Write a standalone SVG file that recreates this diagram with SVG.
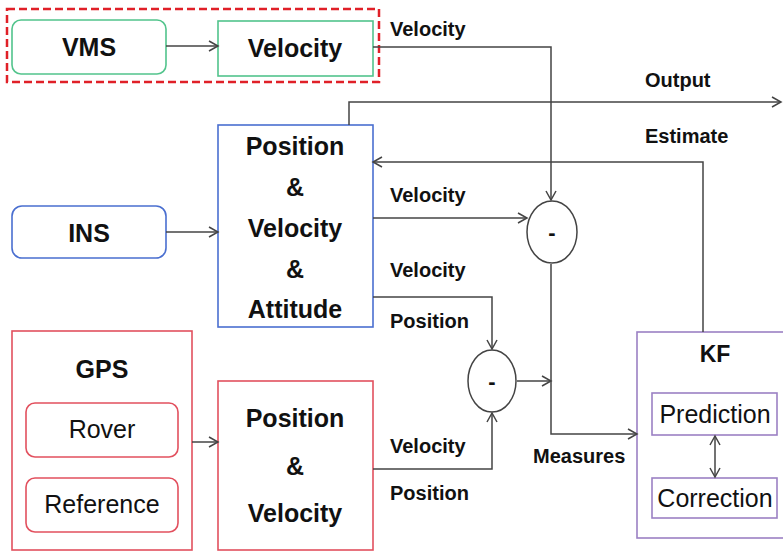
<svg xmlns="http://www.w3.org/2000/svg" width="783" height="552" viewBox="0 0 783 552">
<defs>
<marker id="arr" markerUnits="userSpaceOnUse" markerWidth="12" markerHeight="12" refX="10" refY="6" orient="auto-start-reverse">
<path d="M1,1 L10,6 L1,11" fill="none" stroke="#444" stroke-width="1.5"/>
</marker>
</defs>
<style>
text{font-family:"Liberation Sans",Arial,sans-serif;fill:#111;text-anchor:middle}
.b{font-weight:bold}
.box{font-size:25px;font-weight:bold}
.reg{font-size:25px}
.lbl{font-size:20px;font-weight:bold;text-anchor:start}
.green{fill:#fff;stroke:#52c48c;stroke-width:1.6}
.blue{fill:#fff;stroke:#4a6fd0;stroke-width:1.6}
.red{fill:#fff;stroke:#e2505e;stroke-width:1.6}
.purple{fill:#fff;stroke:#9b80c4;stroke-width:1.6}
.a{fill:none;stroke:#444;stroke-width:1.5;marker-end:url(#arr)}
.both{marker-start:url(#arr)}
.circ{fill:#fff;stroke:#444;stroke-width:1.5}
</style>
<rect x="7" y="9" width="372" height="73" fill="none" stroke="#e02028" stroke-width="2.5" stroke-dasharray="8 4"/>
<g id="vms">
<rect class="green" x="12" y="20" width="154" height="54" rx="9"/>
<text class="box" x="89" y="56">VMS</text>
</g>
<g id="vms-velocity">
<rect class="green" x="218" y="21" width="155" height="55"/>
<text class="box" x="295" y="57">Velocity</text>
</g>
<g id="ins">
<rect class="blue" x="12" y="206" width="154" height="52" rx="10"/>
<text class="box" x="89" y="242">INS</text>
</g>
<g id="ins-pva">
<rect class="blue" x="218" y="125" width="155" height="202"/>
<text class="box" x="295" y="155">Position</text>
<text class="box" x="295" y="196">&amp;</text>
<text class="box" x="295" y="237">Velocity</text>
<text class="box" x="295" y="278">&amp;</text>
<text class="box" x="295" y="318">Attitude</text>
</g>
<g id="gps">
<rect class="red" x="12" y="331" width="180" height="219"/>
<text class="box" x="102" y="378">GPS</text>
<rect class="red" x="26" y="403" width="152" height="54" rx="9"/>
<text class="reg" x="102" y="438">Rover</text>
<rect class="red" x="26" y="478" width="152" height="54" rx="9"/>
<text class="reg" x="102" y="513">Reference</text>
</g>
<g id="gps-pv">
<rect class="red" x="218" y="381" width="155" height="169"/>
<text class="box" x="295" y="427">Position</text>
<text class="box" x="295" y="475">&amp;</text>
<text class="box" x="295" y="522">Velocity</text>
</g>
<g id="sub1">
<ellipse class="circ" cx="552" cy="232" rx="25" ry="31"/>
<text class="b" x="552" y="240" font-size="22">-</text>
</g>
<g id="sub2">
<ellipse class="circ" cx="492" cy="381" rx="24" ry="31"/>
<text class="b" x="492" y="389" font-size="22">-</text>
</g>
<g id="kf">
<rect class="purple" x="637" y="332" width="150" height="206"/>
<text class="b" x="715" y="362" font-size="23">KF</text>
<rect class="purple" x="652" y="393" width="125" height="42"/>
<text class="reg" x="715" y="423">Prediction</text>
<rect class="purple" x="652" y="478" width="125" height="40"/>
<text class="reg" x="715" y="507">Correction</text>
</g>
<g id="connectors">
<path class="a" d="M166,46 H218"/>
<path class="a" d="M373,47 H551 V200"/>
<path class="a" d="M349,125 V102 H781"/>
<path class="a" d="M703,332 V162 H373"/>
<path class="a" d="M373,218 H527"/>
<path class="a" d="M373,297 H492 V349"/>
<path class="a" d="M517,381 H551"/>
<path class="a" d="M551,264 V434 H637"/>
<path class="a" d="M373,469 H492 V413"/>
<path class="a" d="M166,232 H218"/>
<path class="a" d="M192,442 H218"/>
<path class="a both" d="M715,436 V477"/>
</g>
<g id="labels">
<text class="lbl" x="390" y="36">Velocity</text>
<text class="lbl" x="645" y="87">Output</text>
<text class="lbl" x="645" y="143">Estimate</text>
<text class="lbl" x="390" y="202">Velocity</text>
<text class="lbl" x="390" y="277">Velocity</text>
<text class="lbl" x="390" y="328">Position</text>
<text class="lbl" x="533" y="463">Measures</text>
<text class="lbl" x="390" y="453">Velocity</text>
<text class="lbl" x="390" y="500">Position</text>
</g>
</svg>
